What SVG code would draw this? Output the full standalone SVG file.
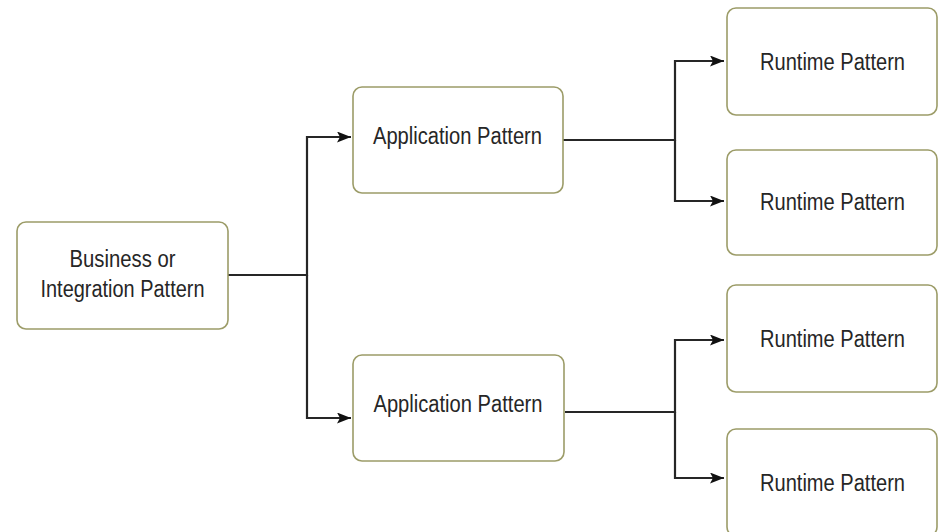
<svg xmlns="http://www.w3.org/2000/svg" width="938" height="532" viewBox="0 0 938 532">
<style>
.box{fill:#ffffff;stroke:#9c9c68;stroke-width:1.6}
.lbl{font-family:"Liberation Sans",Arial,sans-serif;font-size:23px;fill:#262626;text-anchor:middle}
.conn{fill:none;stroke:#262626;stroke-width:2.2}
</style>
<defs>
<marker id="arr" markerUnits="userSpaceOnUse" markerWidth="16" markerHeight="12" refX="14" refY="5.5" orient="auto">
<path d="M0,0 L14,5.5 L0,11 L3,5.5 Z" fill="#111111"/>
</marker>
</defs>
<rect width="938" height="532" fill="#ffffff"/>
<g id="connectors">
<path class="conn" d="M228,275 H307 V137 H351" marker-end="url(#arr)"/>
<path class="conn" d="M307,275 V418 H351" marker-end="url(#arr)"/>
<path class="conn" d="M563,140 H675 V61 H724" marker-end="url(#arr)"/>
<path class="conn" d="M675,140 V201 H724" marker-end="url(#arr)"/>
<path class="conn" d="M565,412 H675 V340 H724" marker-end="url(#arr)"/>
<path class="conn" d="M675,412 V478 H724" marker-end="url(#arr)"/>
</g>
<g id="business">
<rect class="box" x="17" y="222" width="211" height="107" rx="9"/>
<text class="lbl" x="122.5" y="267" textLength="106" lengthAdjust="spacingAndGlyphs">Business or</text>
<text class="lbl" x="122.5" y="297" textLength="164" lengthAdjust="spacingAndGlyphs">Integration Pattern</text>
</g>
<g id="app1">
<rect class="box" x="353" y="87" width="210" height="106" rx="9"/>
<text class="lbl" x="457.5" y="144" textLength="169" lengthAdjust="spacingAndGlyphs">Application Pattern</text>
</g>
<g id="app2">
<rect class="box" x="353" y="355" width="211" height="106" rx="9"/>
<text class="lbl" x="458" y="412" textLength="169" lengthAdjust="spacingAndGlyphs">Application Pattern</text>
</g>
<g id="runtime1">
<rect class="box" x="727" y="8" width="210" height="107" rx="9"/>
<text class="lbl" x="832.5" y="70" textLength="145" lengthAdjust="spacingAndGlyphs">Runtime Pattern</text>
</g>
<g id="runtime2">
<rect class="box" x="727" y="150" width="210" height="105" rx="9"/>
<text class="lbl" x="832.5" y="210" textLength="145" lengthAdjust="spacingAndGlyphs">Runtime Pattern</text>
</g>
<g id="runtime3">
<rect class="box" x="727" y="285" width="210" height="107" rx="9"/>
<text class="lbl" x="832.5" y="347" textLength="145" lengthAdjust="spacingAndGlyphs">Runtime Pattern</text>
</g>
<g id="runtime4">
<rect class="box" x="727" y="429" width="210" height="107" rx="9"/>
<text class="lbl" x="832.5" y="491" textLength="145" lengthAdjust="spacingAndGlyphs">Runtime Pattern</text>
</g>
</svg>
